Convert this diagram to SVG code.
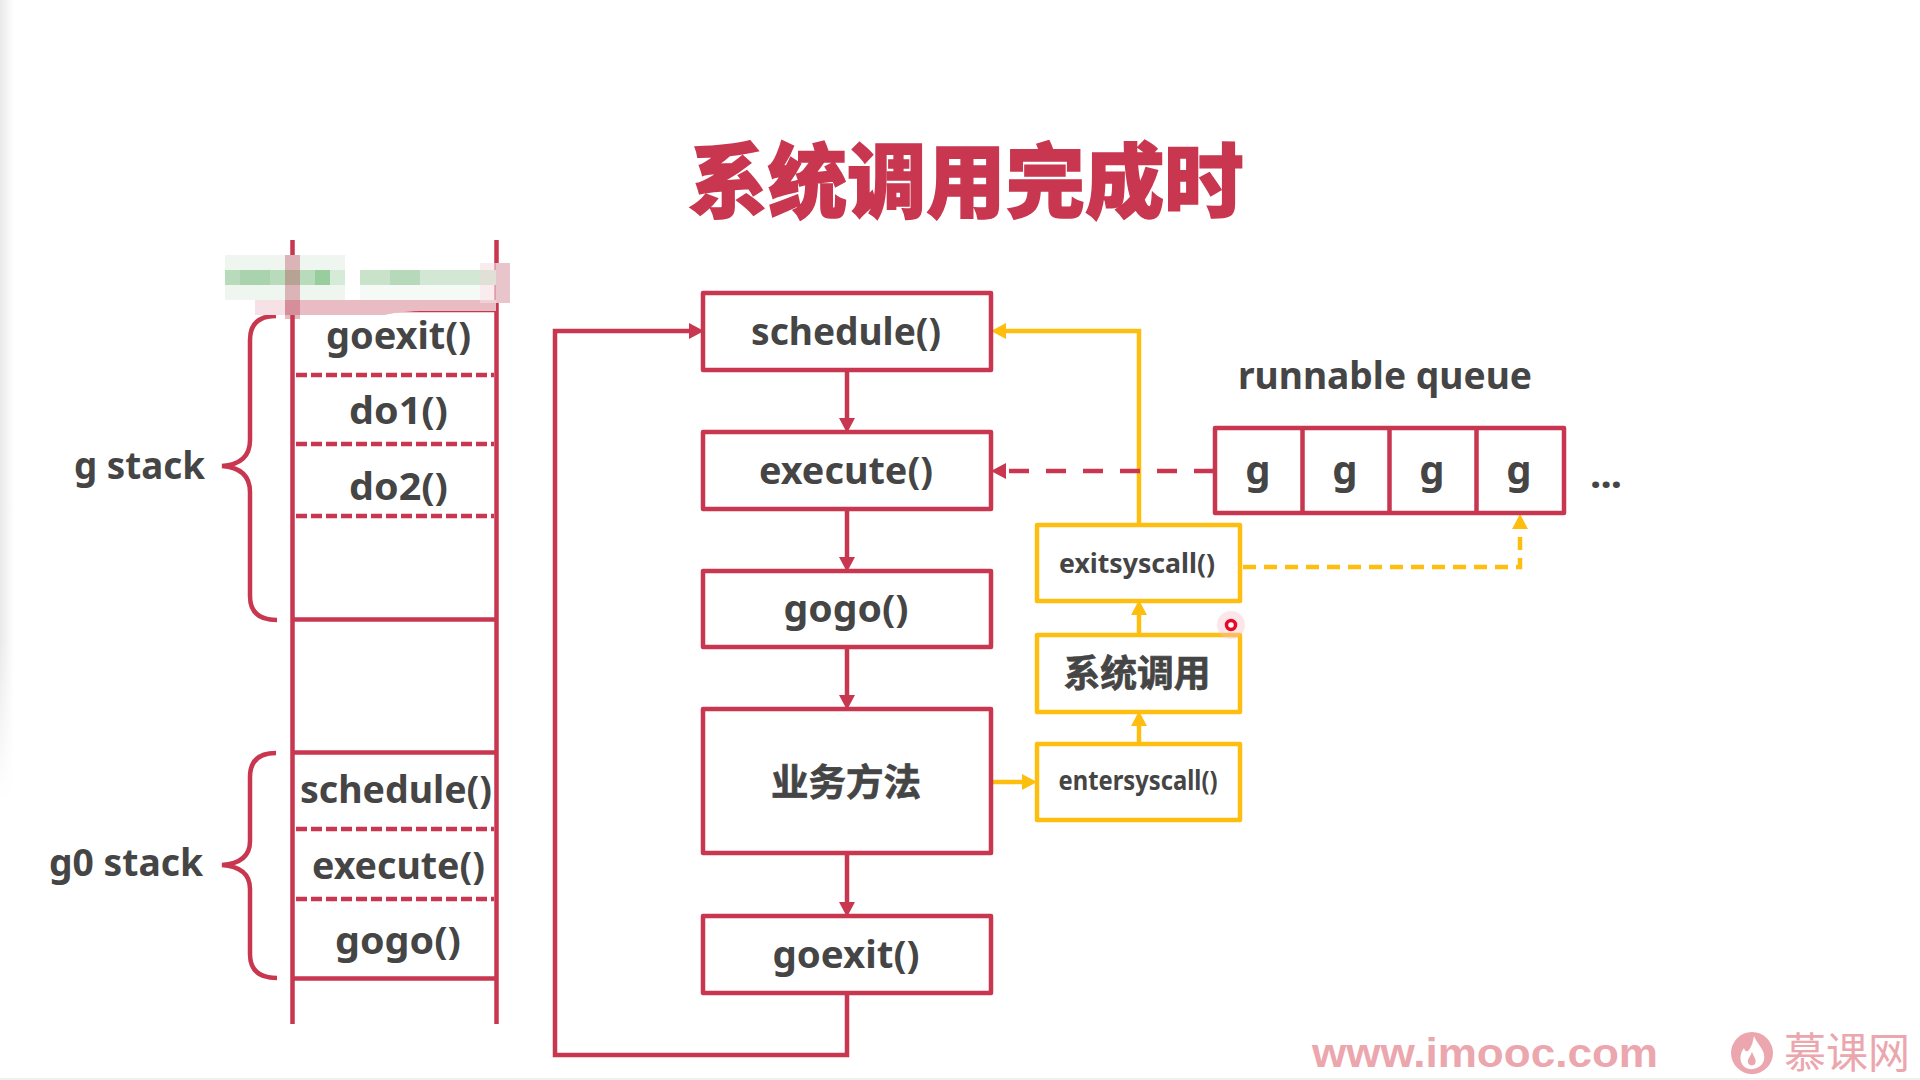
<svg xmlns="http://www.w3.org/2000/svg" width="1920" height="1080" viewBox="0 0 1920 1080">
<style>
text{font-family:"Noto Sans","Noto Sans CJK SC",sans-serif;font-weight:700;fill:#454545;text-anchor:middle}
.cjk{font-family:"Noto Sans CJK SC",sans-serif}
.r{fill:#fff;stroke:#C8374F;stroke-width:4.5;stroke-linejoin:round}
.y{fill:#fff;stroke:#FDBE10;stroke-width:4.5;stroke-linejoin:round}
.lr{fill:none;stroke:#C8374F;stroke-width:4.5}
.ly{fill:none;stroke:#FDBE10;stroke-width:4.5}
.d{stroke-dasharray:11 4}
.f{font-size:37px}
.s{font-size:26px}
</style>
<defs>
<linearGradient id="shade" x1="0" x2="1" y1="0" y2="0"><stop offset="0" stop-color="#e9e9e9"/><stop offset="1" stop-color="#fff"/></linearGradient>
<linearGradient id="fade" x1="0" x2="0" y1="0" y2="1"><stop offset="0" stop-color="#fff" stop-opacity="0"/><stop offset="1" stop-color="#fff"/></linearGradient>
<marker id="ar" markerUnits="userSpaceOnUse" markerWidth="15" markerHeight="16" viewBox="0 0 15 16" refX="6" refY="8" orient="auto"><path d="M0,0L15,8L0,16Z" fill="#C8374F"/></marker>
<marker id="ay" markerUnits="userSpaceOnUse" markerWidth="15" markerHeight="16" viewBox="0 0 15 16" refX="6" refY="8" orient="auto"><path d="M0,0L15,8L0,16Z" fill="#FDBE10"/></marker>
</defs>
<rect width="1920" height="1080" fill="#fff"/>
<rect x="0" y="0" width="14" height="800" fill="url(#shade)"/>
<rect x="0" y="640" width="14" height="160" fill="url(#fade)"/>
<rect x="0" y="1078" width="1920" height="2" fill="#f0f0f0"/>
<text class="cjk" x="966" y="211" font-size="81" style="font-weight:900;fill:#C8374F;stroke:#C8374F;stroke-width:1.5" textLength="555" lengthAdjust="spacingAndGlyphs">系统调用完成时</text>

<g id="stacks">
<path class="lr" d="M292.500,240V1024M496.500,240V1024M292,310H496M292,619.500H496M292,752.500H496M292,978.500H496"/>
<path class="lr d" d="M296,375H494M296,444H494M296,516H494M296,829H494M296,899H494"/>
<path class="lr" d="M276,316Q250,316 250,340V440Q250,464 222,466Q250,468 250,492V596Q250,620 277,620"/>
<path class="lr" d="M276,753Q250,753 250,777V841Q250,863 222,865Q250,867 250,889V954Q250,978 277,978"/>
</g>
<g id="mosaic">
<rect x="225" y="255" width="120" height="45" fill="#eff6f0"/>
<rect x="360" y="285" width="120" height="15" fill="#f6faf6"/>
<rect x="225" y="270" width="120" height="15" fill="#b8dcbb"/>
<rect x="240" y="270" width="30" height="15" fill="#a8d3ac"/>
<rect x="315" y="270" width="15" height="15" fill="#98cd9e"/>
<rect x="330" y="270" width="15" height="15" fill="#d5ead7"/>
<rect x="360" y="270" width="60" height="15" fill="#c8e3ca"/>
<rect x="390" y="270" width="30" height="15" fill="#b6dab9"/>
<rect x="420" y="270" width="60" height="15" fill="#d2e8d4"/>
<rect x="480" y="270" width="16" height="15" fill="#c3e0c5"/>
<rect x="255" y="300" width="30" height="15" fill="#f6e2e6"/>
<path d="M285,300H496V311H420Q395,312 385,315H285Z" fill="#e9bcc4"/>
<rect x="285" y="255" width="15" height="64" fill="#b5404f" opacity=".36"/>
<rect x="496" y="263" width="14" height="40" fill="#e8c4cb"/>
<rect x="480" y="263" width="16" height="40" fill="#f3dfe3" opacity=".6"/>
</g>

<g id="stack-labels">
<text x="139.500" y="479" font-size="37" textLength="131" lengthAdjust="spacingAndGlyphs">g stack</text>
<text x="126" y="876" font-size="37" textLength="154" lengthAdjust="spacingAndGlyphs">g0 stack</text>
<text class="f" x="398.500" y="349" textLength="145" lengthAdjust="spacingAndGlyphs">goexit()</text>
<text class="f" x="398.500" y="424" textLength="99" lengthAdjust="spacingAndGlyphs">do1()</text>
<text class="f" x="398.500" y="500" textLength="99" lengthAdjust="spacingAndGlyphs">do2()</text>
<text class="f" x="396" y="803" textLength="192" lengthAdjust="spacingAndGlyphs">schedule()</text>
<text class="f" x="398.500" y="879" textLength="173" lengthAdjust="spacingAndGlyphs">execute()</text>
<text class="f" x="398" y="954" textLength="126" lengthAdjust="spacingAndGlyphs">gogo()</text>
</g>

<g id="connectors">
<path class="lr" marker-end="url(#ar)" d="M847,993V1055H555V331H695"/>
<path class="lr" marker-end="url(#ar)" d="M847,370V424"/>
<path class="lr" marker-end="url(#ar)" d="M847,509V563"/>
<path class="lr" marker-end="url(#ar)" d="M847,647V701"/>
<path class="lr" marker-end="url(#ar)" d="M847,853V908"/>
<path class="ly" marker-end="url(#ay)" d="M1139,525V331H1000"/>
<path class="lr" marker-end="url(#ar)" stroke-dasharray="20 17" d="M1214,471H1000"/>
<path class="ly" marker-end="url(#ay)" d="M991,782H1028"/>
<path class="ly" marker-end="url(#ay)" d="M1139,744V720"/>
<path class="ly" marker-end="url(#ay)" d="M1139,635V609"/>
<path class="ly" marker-end="url(#ay)" stroke-dasharray="13 8" d="M1243,567H1520V523"/>
</g>

<g id="n-schedule"><rect class="r" x="703" y="293" width="288" height="77"/><text class="f" x="846" y="345" textLength="190" lengthAdjust="spacingAndGlyphs">schedule()</text></g>
<g id="n-execute"><rect class="r" x="703" y="432" width="288" height="77"/><text class="f" x="846" y="484" textLength="174" lengthAdjust="spacingAndGlyphs">execute()</text></g>
<g id="n-gogo"><rect class="r" x="703" y="571" width="288" height="76"/><text class="f" x="846" y="622" textLength="125" lengthAdjust="spacingAndGlyphs">gogo()</text></g>
<g id="n-biz"><rect class="r" x="703" y="709" width="288" height="144"/><text class="f cjk" x="846" y="796" textLength="150" lengthAdjust="spacingAndGlyphs" style="stroke:#454545;stroke-width:.7">业务方法</text></g>
<g id="n-goexit"><rect class="r" x="703" y="916" width="288" height="77"/><text class="f" x="846" y="968" textLength="147" lengthAdjust="spacingAndGlyphs">goexit()</text></g>

<g id="n-exitsyscall"><rect class="y" x="1037" y="525" width="203" height="76"/><text class="s" x="1137" y="573" textLength="156" lengthAdjust="spacingAndGlyphs">exitsyscall()</text></g>
<g id="n-syscall"><rect class="y" x="1037" y="635" width="203" height="77"/><text class="f cjk" x="1137" y="687" textLength="147" lengthAdjust="spacingAndGlyphs" style="stroke:#454545;stroke-width:.7">系统调用</text></g>
<g id="n-entersyscall"><rect class="y" x="1037" y="744" width="203" height="76"/><text class="s" x="1138" y="790" textLength="159" lengthAdjust="spacingAndGlyphs">entersyscall()</text></g>

<g id="n-queue">
<text x="1385" y="389" font-size="37" textLength="294" lengthAdjust="spacingAndGlyphs">runnable queue</text>
<rect class="r" x="1215" y="428" width="349" height="85"/>
<path class="lr" d="M1302.500,428V513M1389.500,428V513M1476.500,428V513"/>
<text x="1258" y="484" font-size="40">g</text>
<text x="1345" y="484" font-size="40">g</text>
<text x="1432" y="484" font-size="40">g</text>
<text x="1519" y="484" font-size="40">g</text>
<text x="1606" y="488" font-size="40" textLength="32">...</text>
</g>

<g id="cursor">
<circle cx="1231" cy="625" r="14" fill="#f7c0c8" opacity=".4"/>
<circle cx="1231" cy="625" r="4.500" fill="#fff" stroke="#E8082A" stroke-width="3.500"/>
</g>

<g id="watermark">
<text x="1485" y="1067" font-size="40" textLength="346" lengthAdjust="spacingAndGlyphs" style="font-family:'Liberation Sans',sans-serif;fill:#EBA6AE">www.imooc.com</text>
<ellipse cx="1752" cy="1053" rx="21" ry="21" fill="#EBA6AE"/>
<path d="M1754,1036C1758,1046 1766,1050 1764,1060C1762,1068 1752,1071 1746,1068C1739,1064 1739,1054 1744,1048C1745,1052 1747,1052 1749,1050C1752,1046 1753,1041 1754,1036Z" fill="#fff"/>
<path d="M1752,1052C1754,1057 1757,1060 1755,1064C1752,1067 1747,1065 1748,1060C1749,1057 1751,1055 1752,1052Z" fill="#EBA6AE"/>
<text class="cjk" x="1847" y="1068" font-size="42" textLength="126" lengthAdjust="spacingAndGlyphs" style="font-weight:400;fill:#EBA6AE">慕课网</text>
</g>
</svg>
